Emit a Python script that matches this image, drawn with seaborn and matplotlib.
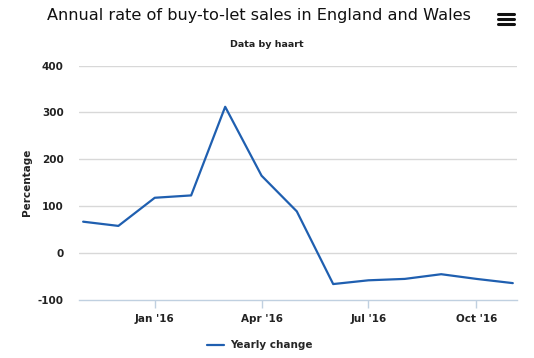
import matplotlib
matplotlib.use("Agg")
import matplotlib.pyplot as plt
from matplotlib.lines import Line2D
import seaborn as sns
import pandas as pd

# monthly yearly change in buy-to-let sales (%)
months = ["2015-11-01", "2015-12-01", "2016-01-01", "2016-02-01", "2016-03-01",
          "2016-04-01", "2016-05-01", "2016-06-01", "2016-07-01", "2016-08-01",
          "2016-09-01", "2016-10-01", "2016-11-01"]
yearly_change = [67, 58, 118, 123, 312, 165, 89, -66, -58, -55, -45, -55, -64]

tick_dates = ["2016-01-01", "2016-04-01", "2016-07-01", "2016-10-01"]
tick_labels = ["Jan '16", "Apr '16", "Jul '16", "Oct '16"]
y_ticks = [-100, 0, 100, 200, 300, 400]

df = pd.DataFrame({"Month": pd.to_datetime(months), "Yearly change": yearly_change})

sns.set_theme(style="white")
plt.rcParams['font.family'] = ['DejaVu Sans']
plt.rcParams['axes.unicode_minus'] = False

fig = plt.figure(figsize=(5.34, 3.58), dpi=100)
ax = fig.add_axes([0.148, 0.162, 0.82, 0.655])

line_color = "#1f5fb0"
sns.lineplot(data=df, x="Month", y="Yearly change", ax=ax, color=line_color,
             linewidth=1.6, legend=False)

ax.set_ylim(-100, 400)
ax.set_yticks(y_ticks)
ax.set_xlim(pd.Timestamp("2015-11-01") - pd.Timedelta(days=3.5),
            pd.Timestamp("2016-11-01") + pd.Timedelta(days=3.5))
ax.set_xticks(pd.to_datetime(tick_dates))
ax.set_xticklabels(tick_labels)

for y in y_ticks[1:]:
    ax.axhline(y, color="#d8d8d8", linewidth=1, zorder=0)

for s in ["top", "right", "left"]:
    ax.spines[s].set_visible(False)
ax.spines["bottom"].set_color("#c0d0e0")
ax.spines["bottom"].set_linewidth(1)

ax.tick_params(axis="x", length=6, width=1, color="#c0d0e0", pad=4,
               labelsize=7.5, labelcolor="#222222", bottom=True)
ax.tick_params(axis="y", length=0, pad=11, labelsize=7.5, labelcolor="#222222")
for lbl in ax.get_xticklabels() + ax.get_yticklabels():
    lbl.set_fontweight("bold")

ax.set_xlabel("")
ax.set_ylabel("Percentage", fontsize=7.5, color="#222222", labelpad=4,
              fontweight="bold")

fig.text(0.485, 0.958, "Annual rate of buy-to-let sales in England and Wales",
         ha="center", va="center", fontsize=11.6, color="#111111")
fig.text(0.5, 0.875, "Data by haart", ha="center", va="center",
         fontsize=6.8, color="#222222", fontweight="semibold")

# menu button
for yy in [0.962, 0.948, 0.934]:
    fig.add_artist(Line2D([0.933, 0.962], [yy, yy], color="#111111", linewidth=2.2))

handle = Line2D([0], [0], color=line_color, linewidth=1.6)
leg = fig.legend([handle], ["Yearly change"], loc="center", bbox_to_anchor=(0.487, 0.035),
                 frameon=False, prop={"weight": "bold", "size": 7.5},
                 handlelength=1.6, handletextpad=0.6)

fig.savefig("out.png", dpi=100)
